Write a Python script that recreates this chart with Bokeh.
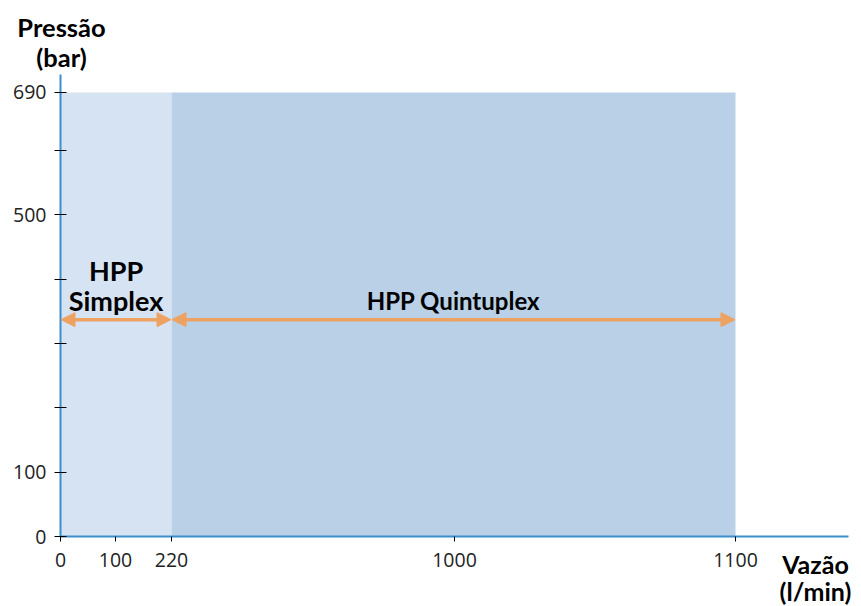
import numpy as np
from bokeh.plotting import figure
from bokeh.models import Range1d, FixedTicker, Label, Arrow, NormalHead, ColumnDataSource, LinearAxis
from bokeh.embed import file_html
from bokeh.resources import INLINE

# ---- data ----
pressure_ticks = [0, 100, 200, 300, 400, 500, 600, 690]
pressure_labels = ["0", "100", "", "", "", "500", "", "690"]
flow_ticks = [0, 100, 220, 1000, 1100]
flow_labels = ["0", "100", "220", "1000", "1100"]
# schematic (non-proportional) axis positions of the flow ticks
flow_tick_pos = [0, 55, 111, 394, 675]

pumps = ["HPP Simplex", "HPP Quintuplex"]
flow_min = [0, 220]
flow_max = [220, 1100]
pressure_max = [690, 690]
arrow_pressure = 337

def fx(v):
    return np.interp(v, flow_ticks, flow_tick_pos)

FONT = "Lato"
TICK_FONT = "Open Sans"
AXIS_BLUE = "#3a8fcb"
ORANGE = "#eea262"
YS = 0.6435  # px per bar

p = figure(width=861, height=606, output_backend="svg", toolbar_location=None,
           x_range=Range1d(-60, 801), y_range=Range1d(-(606 - 536) / YS, 536 / YS),
           x_axis_type=None, y_axis_type=None,
           min_border_left=0, min_border_right=0, min_border_top=0, min_border_bottom=0)
p.outline_line_color = None
p.background_fill_color = "white"
p.border_fill_color = "white"

src = ColumnDataSource(dict(
    left=fx(flow_min), right=fx(flow_max), bottom=[0, 0], top=pressure_max,
    color=["#d6e3f2", "#b9d0e7"], name=pumps))
p.quad(left="left", right="right", bottom="bottom", top="top", fill_color="color",
       line_color=None, source=src)

# axes
xa = LinearAxis(fixed_location=0, bounds=(0, 788))
xa.ticker = FixedTicker(ticks=list(flow_tick_pos))
xa.major_label_overrides = {float(pos): lab for pos, lab in zip(flow_tick_pos, flow_labels)}
xa.minor_tick_line_color = None
xa.axis_line_color = AXIS_BLUE
xa.axis_line_width = 2
xa.major_tick_line_color = "black"
xa.major_tick_in = 0
xa.major_tick_out = 5
xa.major_label_standoff = 11
xa.major_label_text_font = TICK_FONT
xa.major_label_text_font_size = "19.5px"
xa.major_label_text_color = "#222222"
p.add_layout(xa, "below")

ya = LinearAxis(fixed_location=0, bounds=(0, 718))
ya.ticker = FixedTicker(ticks=pressure_ticks)
ya.major_label_overrides = {float(t): lab for t, lab in zip(pressure_ticks, pressure_labels)}
ya.minor_tick_line_color = None
ya.axis_line_color = AXIS_BLUE
ya.axis_line_width = 2
ya.major_tick_line_color = "black"
ya.major_tick_in = 6
ya.major_tick_out = 6
ya.major_label_standoff = 8
ya.major_label_text_font = TICK_FONT
ya.major_label_text_font_size = "19.5px"
ya.major_label_text_color = "#222222"
p.add_layout(ya, "left")

# arrows (double headed, drawn from the middle of each range outward)
for a, b in zip(flow_min, flow_max):
    mid = float((fx(a) + fx(b)) / 2)
    for tip in (float(fx(b)) - 0.5, float(fx(a)) + 0.5):
        p.add_layout(Arrow(end=NormalHead(size=14, fill_color=ORANGE, line_color=ORANGE),
                           x_start=mid, x_end=tip,
                           y_start=arrow_pressure, y_end=arrow_pressure,
                           line_color=ORANGE, line_width=3.5))

def lab(x, y, text, size="22px", bold=True, align="center"):
    p.add_layout(Label(x=x, y=y, text=text, text_font=FONT, text_font_size=size,
                       text_font_style="bold" if bold else "normal",
                       text_align=align, text_baseline="middle", text_color="black"))

# pump labels
mid_s = float((fx(flow_min[0]) + fx(flow_max[0])) / 2)
mid_q = float((fx(flow_min[1]) + fx(flow_max[1])) / 2)
lab(mid_s, 413, "HPP", size="27px")
lab(mid_s, 367, "Simplex", size="27px")
lab(mid_q, 367, "HPP Quintuplex", size="24px")

# axis titles
lab(1, 791, "Pressão", size="25.5px")
lab(1, 745, "(bar)", size="25.5px")
lab(755, -42, "Vazão", size="25px")
lab(755, -85, "(l/min)", size="25px")

open("out.html", "w").write(file_html(p, INLINE))
